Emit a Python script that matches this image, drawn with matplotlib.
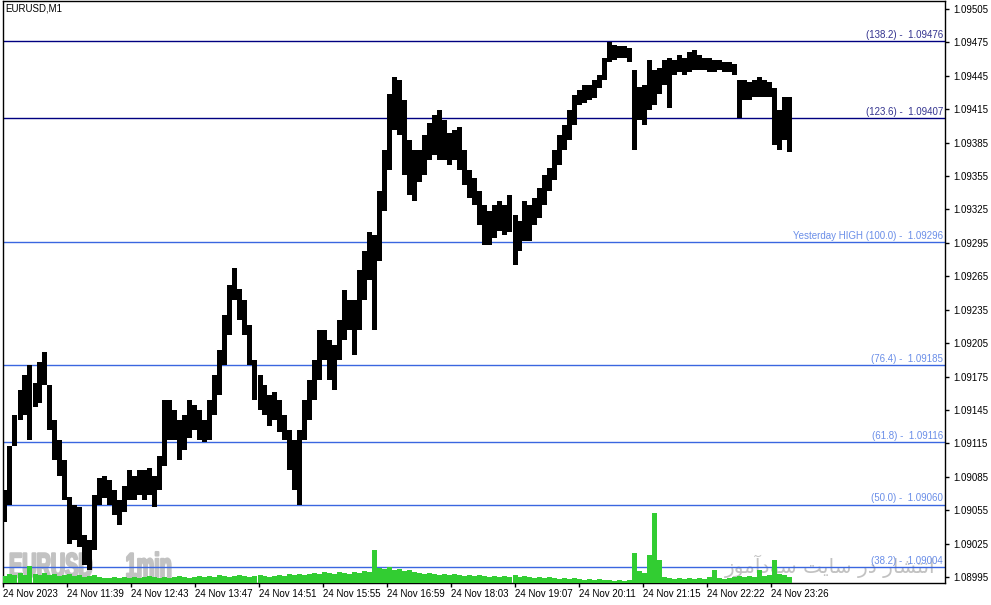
import numpy as np
import matplotlib
matplotlib.use("Agg")
import matplotlib.pyplot as plt
from matplotlib.patheffects import AbstractPathEffect
from matplotlib.transforms import Affine2D

# high / low of each 5-minute group of M1 bars
hi = [1.09073, 1.09113, 1.09140, 1.09163, 1.09176, 1.09185, 1.09169, 1.09188, 1.09197, 1.09167,
      1.09136, 1.09118, 1.09100, 1.09067, 1.09060, 1.09058, 1.09033, 1.09028, 1.09069, 1.09084,
      1.09086, 1.09082, 1.09073, 1.09064, 1.09077, 1.09091, 1.09086, 1.09091, 1.09091, 1.09093,
      1.09086, 1.09104, 1.09154, 1.09154, 1.09145, 1.09136, 1.09140, 1.09154, 1.09149, 1.09145,
      1.09136, 1.09154, 1.09176, 1.09199, 1.09230, 1.09257, 1.09272, 1.09254, 1.09244, 1.09221,
      1.09190, 1.09176, 1.09167, 1.09158, 1.09161, 1.09154, 1.09140, 1.09127, 1.09118, 1.09127,
      1.09154, 1.09172, 1.09190, 1.09217, 1.09217, 1.09208, 1.09203, 1.09226, 1.09253, 1.09244,
      1.09244, 1.09271, 1.09288, 1.09305, 1.09302, 1.09342, 1.09378, 1.09429, 1.09444, 1.09441,
      1.09423, 1.09387, 1.09378, 1.09378, 1.09392, 1.09403, 1.09410, 1.09414, 1.09405, 1.09394,
      1.09396, 1.09399, 1.09378, 1.09360, 1.09353, 1.09342, 1.09329, 1.09324, 1.09329, 1.09333,
      1.09329, 1.09338, 1.09320, 1.09315, 1.09333, 1.09329, 1.09335, 1.09344, 1.09356, 1.09362,
      1.09378, 1.09392, 1.09401, 1.09414, 1.09428, 1.09432, 1.09437, 1.09437, 1.09441, 1.09446,
      1.09461, 1.09475, 1.09473, 1.09472, 1.09472, 1.09470, 1.09450, 1.09435, 1.09437, 1.09459,
      1.09450, 1.09452, 1.09459, 1.09461, 1.09459, 1.09464, 1.09461, 1.09466, 1.09468, 1.09464,
      1.09461, 1.09461, 1.09459, 1.09459, 1.09457, 1.09457, 1.09456, 1.09441, 1.09441, 1.09439,
      1.09441, 1.09444, 1.09441, 1.09439, 1.09434, 1.09414, 1.09426, 1.09426]
lo = [1.09044, 1.09060, 1.09113, 1.09136, 1.09140, 1.09118, 1.09148, 1.09151, 1.09167, 1.09127,
      1.09100, 1.09086, 1.09064, 1.09025, 1.09028, 1.09022, 1.09006, 1.09001, 1.09019, 1.09060,
      1.09066, 1.09060, 1.09051, 1.09042, 1.09053, 1.09064, 1.09064, 1.09069, 1.09064, 1.09069,
      1.09058, 1.09073, 1.09095, 1.09118, 1.09118, 1.09100, 1.09109, 1.09120, 1.09127, 1.09118,
      1.09116, 1.09118, 1.09140, 1.09158, 1.09185, 1.09212, 1.09244, 1.09226, 1.09212, 1.09185,
      1.09154, 1.09145, 1.09140, 1.09131, 1.09136, 1.09125, 1.09118, 1.09091, 1.09073, 1.09060,
      1.09118, 1.09136, 1.09154, 1.09172, 1.09190, 1.09172, 1.09163, 1.09190, 1.09208, 1.09217,
      1.09194, 1.09217, 1.09244, 1.09262, 1.09217, 1.09279, 1.09324, 1.09360, 1.09396, 1.09392,
      1.09356, 1.09338, 1.09333, 1.09350, 1.09356, 1.09369, 1.09374, 1.09369, 1.09369, 1.09365,
      1.09369, 1.09360, 1.09347, 1.09335, 1.09329, 1.09311, 1.09293, 1.09293, 1.09299, 1.09306,
      1.09302, 1.09305, 1.09275, 1.09288, 1.09297, 1.09297, 1.09311, 1.09317, 1.09329, 1.09342,
      1.09351, 1.09365, 1.09378, 1.09387, 1.09401, 1.09419, 1.09421, 1.09423, 1.09425, 1.09434,
      1.09441, 1.09457, 1.09459, 1.09461, 1.09461, 1.09457, 1.09378, 1.09405, 1.09401, 1.09414,
      1.09419, 1.09429, 1.09437, 1.09416, 1.09446, 1.09448, 1.09446, 1.09448, 1.09450, 1.09450,
      1.09450, 1.09448, 1.09448, 1.09450, 1.09448, 1.09448, 1.09446, 1.09407, 1.09423, 1.09423,
      1.09426, 1.09426, 1.09426, 1.09426, 1.09383, 1.09378, 1.09387, 1.09377]
# tick volume of each group
vol = [70, 90, 80, 100, 80, 170, 90, 80, 100, 80,
       90, 70, 80, 90, 70, 80, 60, 70, 80, 60,
       50, 50, 60, 50, 60, 50, 60, 50, 60, 70,
       60, 50, 60, 50, 60, 70, 60, 50, 60, 70,
       60, 70, 60, 80, 70, 60, 70, 80, 70, 60,
       70, 80, 70, 60, 70, 80, 70, 90, 80, 90,
       80, 90, 100, 90, 110, 100, 90, 110, 100, 90,
       110, 100, 120, 110, 330, 150, 140, 160, 130, 140,
       120, 130, 110, 100, 90, 100, 90, 80, 90, 80,
       90, 80, 70, 80, 70, 80, 70, 60, 70, 60,
       70, 60, 80, 60, 70, 60, 50, 60, 50, 60,
       50, 40, 50, 40, 50, 40, 30, 40, 30, 40,
       30, 30, 20, 30, 20, 30, 300, 120, 100, 280,
       700, 230, 60, 50, 40, 50, 40, 50, 40, 50,
       40, 60, 130, 50, 40, 50, 60, 70, 60, 70,
       60, 130, 70, 80, 230, 90, 80, 60]

fib_ratio = ["138.2", "123.6", "100.0", "76.4", "61.8", "50.0", "38.2"]
fib_price = [1.09476, 1.09407, 1.09296, 1.09185, 1.09116, 1.09060, 1.09004]
fib_name = ["", "", "Yesterday HIGH ", "", "", "", ""]
fib_dark = [True, True, False, False, False, False, False]

price_ticks = [1.08995, 1.09025, 1.09055, 1.09085, 1.09115, 1.09145, 1.09175, 1.09205, 1.09235,
               1.09265, 1.09295, 1.09325, 1.09355, 1.09385, 1.09415, 1.09445, 1.09475, 1.09505]
time_labels = ["24 Nov 2023", "24 Nov 11:39", "24 Nov 12:43", "24 Nov 13:47", "24 Nov 14:51",
               "24 Nov 15:55", "24 Nov 16:59", "24 Nov 18:03", "24 Nov 19:07", "24 Nov 20:11",
               "24 Nov 21:15", "24 Nov 22:22", "24 Nov 23:26"]
time_pos = [0, 64, 128, 192, 256, 320, 384, 448, 512, 576, 640, 704, 768]  # bar index


class Squeeze(AbstractPathEffect):
    """narrow + heavier glyphs (no condensed black font installed)"""
    def __init__(self, sx, lw=1.5):
        super().__init__()
        self.sx = sx
        self.lw = lw

    def draw_path(self, renderer, gc, tpath, affine, rgbFace=None):
        gc0 = renderer.new_gc()
        gc0.copy_properties(gc)
        gc0.set_linewidth(self.lw)
        gc0.set_foreground(rgbFace)
        renderer.draw_path(gc0, tpath, Affine2D().scale(self.sx, 1) + affine, rgbFace)
        gc0.restore()


plt.rcParams['font.family'] = ['Liberation Sans', 'DejaVu Sans']

fig = plt.figure(figsize=(9.91, 6.05), dpi=100)
ax = fig.add_axes([2.5 / 991, 22 / 605, 942.5 / 991, 582.5 / 605])

hi = np.array(hi)
lo = np.array(lo)
x = np.arange(len(hi)) * 5 + 2

ax.bar(x, hi - lo, bottom=lo, width=5, color='black', linewidth=0, zorder=3)

for r, p, nm, dk in zip(fib_ratio, fib_price, fib_name, fib_dark):
    lc = '#000080' if dk else '#3A66E0'
    tc = '#33338f' if dk else '#6a8ee8'
    ax.axhline(p, color=lc, lw=1, zorder=2)
    ax.annotate(f"{nm}({r}) -  {p:.5f}", xy=(1, p), xycoords=('axes fraction', 'data'),
                xytext=(-1.5, 0.8), textcoords='offset points', ha='right', va='bottom',
                fontsize=7, color=tc, zorder=4)

ax.set_xlim(-0.5, 942)
ax.set_ylim(1.089896, 1.095126)

# volume on its own scale at the foot of the chart
ax2 = ax.twinx()
ax2.bar(x, vol, width=5, color='#32CD32', linewidth=0)
ax2.set_ylim(0, 5825)
ax2.set_yticks([])
for s in ax2.spines.values():
    s.set_visible(False)

ax.yaxis.tick_right()
ax.set_yticks(price_ticks)
ax.set_yticklabels([f"{t:.5f}" for t in price_ticks])
ax.set_xticks(time_pos)
ax.set_xticklabels(time_labels)
for lb in ax.get_xticklabels():
    lb.set_ha('left')
ax.tick_params(axis='both', direction='out', length=3, width=1, labelsize=7, colors='black')
ax.tick_params(axis='x', pad=1)
ax.tick_params(axis='y', pad=3)
for s in ax.spines.values():
    s.set_color('black')
    s.set_linewidth(1)

ax.text(0.003, 0.995, "EURUSD,M1", transform=ax.transAxes, fontsize=7, va='top', ha='left')

ax.text(0.007, 0.01, "EURUSD      1min", transform=ax.transAxes, fontsize=25, fontweight='bold',
        color='#c2c2c2', family='Liberation Sans', ha='left', va='baseline', zorder=1,
        path_effects=[Squeeze(0.57)])
# "انتشار در سایت سودآموز" in shaped presentation forms, visual order
fa_words = ['\uFE8D\uFEE7\uFE98\uFEB8\uFE8E\uFEAD', '\uFEA9\uFEAD',
            '\uFEB3\uFE8E\uFBFE\uFE96', '\uFEB3\uFEEE\uFEA9\uFE81\uFEE3\uFEEE\uFEAF']
fa_text = ' '.join(fa_words)[::-1]
ax.text(0.99, 0.008, fa_text, transform=ax.transAxes, fontsize=14.5, color='#c2c2c2',
        family=['DejaVu Sans'], ha='right', va='bottom', zorder=1)

fig.savefig("out.png", dpi=100)
